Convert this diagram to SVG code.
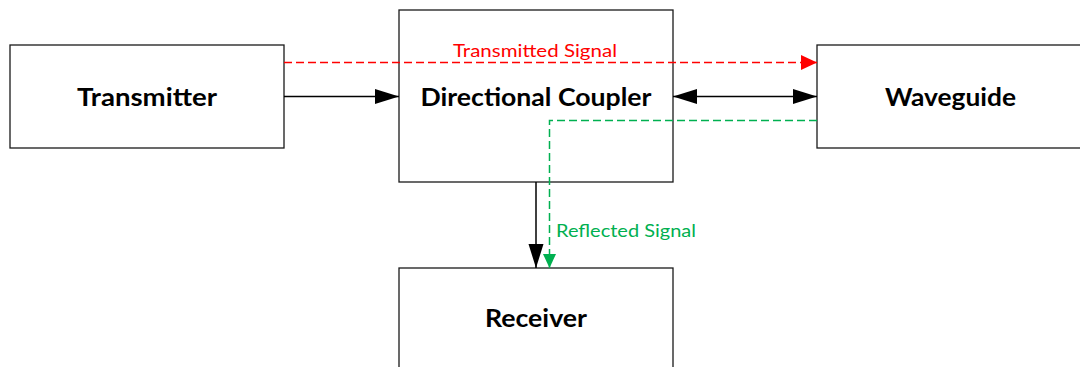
<svg xmlns="http://www.w3.org/2000/svg" width="1080" height="367" viewBox="0 0 1080 367">
  <style>
    .box { fill: #ffffff; stroke: #1a1a1a; stroke-width: 1.3; }
    .lbl { font-family: Lato, "Open Sans", "Liberation Sans", sans-serif; font-weight: bold; font-size: 24.5px; fill: #000000; text-anchor: middle; }
    .sig { font-family: Lato, "Open Sans", "Liberation Sans", sans-serif; font-size: 17.5px; }
    .solid { fill: none; stroke: #000000; stroke-width: 1.5; }
    .tx { fill: none; stroke: #ff0000; stroke-width: 1.5; stroke-dasharray: 8 4; }
    .rx { fill: none; stroke: #00b050; stroke-width: 1.5; stroke-dasharray: 8 4; }
  </style>
  <defs>
    <marker id="arrowBlack" markerUnits="userSpaceOnUse" markerWidth="24" markerHeight="16" refX="24" refY="8" orient="auto-start-reverse">
      <path d="M0,0.5 L24,8 L0,15.5 Z" fill="#000000"/>
    </marker>
    <marker id="arrowRed" markerUnits="userSpaceOnUse" markerWidth="16" markerHeight="16" refX="16" refY="8" orient="auto">
      <path d="M0,0.5 L16,8 L0,15.5 Z" fill="#ff0000"/>
    </marker>
    <marker id="arrowGreen" markerUnits="userSpaceOnUse" markerWidth="14" markerHeight="14" refX="14" refY="7" orient="auto">
      <path d="M0,0.5 L14,7 L0,13.5 Z" fill="#00b050"/>
    </marker>
  </defs>

  <g id="transmitter">
    <rect class="box" x="10" y="45" width="274" height="103"/>
    <text class="lbl" x="147" y="106" textLength="140" lengthAdjust="spacingAndGlyphs">Transmitter</text>
  </g>

  <g id="directional-coupler">
    <rect class="box" x="399" y="10" width="274" height="172"/>
    <text class="lbl" x="536" y="106" textLength="231" lengthAdjust="spacingAndGlyphs">Directional Coupler</text>
  </g>

  <g id="waveguide">
    <rect class="box" x="817" y="45" width="280" height="103"/>
    <text class="lbl" x="950.5" y="106" textLength="131" lengthAdjust="spacingAndGlyphs">Waveguide</text>
  </g>

  <g id="receiver">
    <rect class="box" x="399" y="268" width="274" height="120"/>
    <text class="lbl" x="536" y="327" textLength="102" lengthAdjust="spacingAndGlyphs">Receiver</text>
  </g>

  <g id="connectors">
    <!-- transmitter feeds the coupler -->
    <line class="solid" x1="284" y1="96.5" x2="399" y2="96.5" marker-end="url(#arrowBlack)"/>
    <!-- coupler and waveguide, both ways -->
    <line class="solid" x1="673" y1="96.5" x2="817" y2="96.5" marker-start="url(#arrowBlack)" marker-end="url(#arrowBlack)"/>
    <!-- coupler output to receiver -->
    <line class="solid" x1="536" y1="182" x2="536" y2="268" marker-end="url(#arrowBlack)"/>
    <!-- forward signal path -->
    <line class="tx" x1="284" y1="62.5" x2="817" y2="62.5" marker-end="url(#arrowRed)"/>
    <text class="sig" x="535" y="57" fill="#ff0000" text-anchor="middle" textLength="164" lengthAdjust="spacingAndGlyphs">Transmitted Signal</text>
    <!-- reflected signal path -->
    <polyline class="rx" points="817,120.5 549.5,120.5 549.5,268" marker-end="url(#arrowGreen)"/>
    <text class="sig" x="556" y="237" fill="#00b050" textLength="140" lengthAdjust="spacingAndGlyphs">Reflected Signal</text>
  </g>
</svg>
